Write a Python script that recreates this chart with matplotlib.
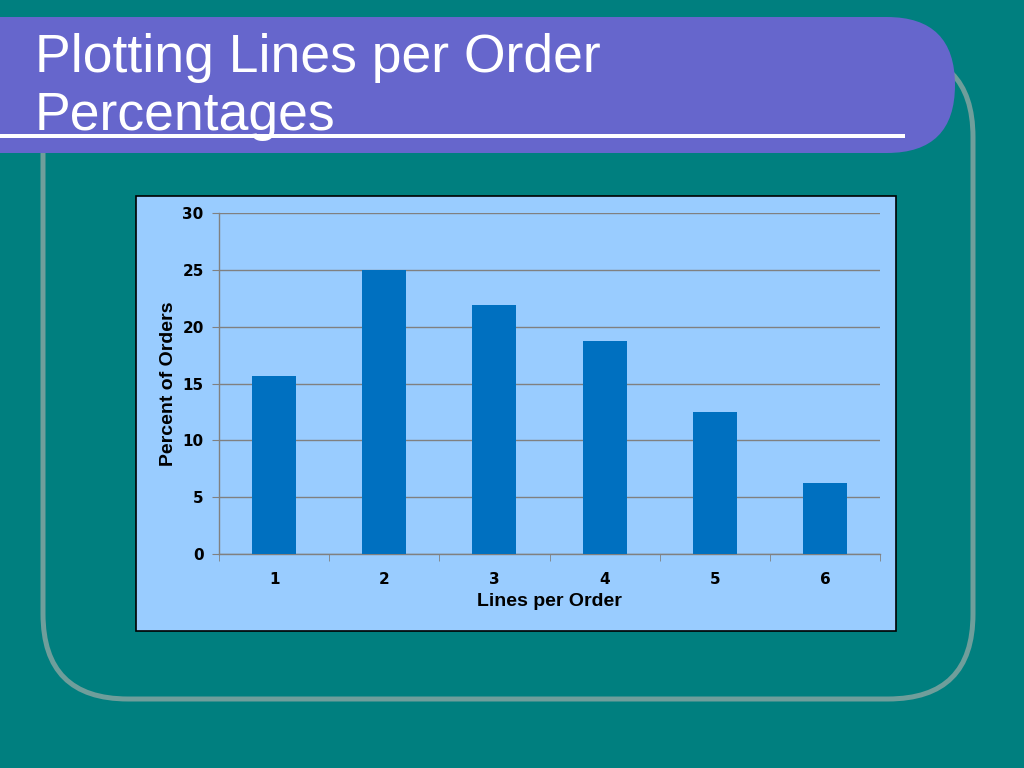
import matplotlib
matplotlib.use("Agg")
import matplotlib.pyplot as plt
from matplotlib.patches import FancyBboxPatch, Rectangle

# data (32 orders -> steps of 3.125 %)
lines_per_order = [1, 2, 3, 4, 5, 6]
percent_orders = [15.625, 25.0, 21.875, 18.75, 12.5, 6.25]
y_ticks = [0, 5, 10, 15, 20, 25, 30]

title_lines = ["Plotting Lines per Order", "Percentages"]

teal = "#007F7F"
purple = "#6666CC"
outline = "#6F9E9B"
chart_bg = "#99CCFF"
bar_col = "#0070C0"
grid_col = "#808080"

fig = plt.figure(figsize=(10.24, 7.68), dpi=100)
fig.patch.set_facecolor(teal)

# slide decoration in pixel coordinates
bg = fig.add_axes([0, 0, 1, 1])
bg.set_xlim(0, 1024)
bg.set_ylim(768, 0)
bg.axis("off")

bg.add_patch(FancyBboxPatch((43, 52), 930, 647,
                            boxstyle="round,pad=0,rounding_size=85",
                            fill=False, ec=outline, lw=3.6))
bg.add_patch(FancyBboxPatch((-300, 17), 1255, 136,
                            boxstyle="round,pad=0,rounding_size=68",
                            fc=purple, ec="none"))
bg.add_patch(Rectangle((0, 134), 905, 4, fc="white", ec="none"))
for y, t in zip([72, 130], title_lines):
    bg.text(35, y, t, color="white", fontsize=38.5,
            family=["Liberation Sans Narrow", "Liberation Sans"], va="baseline")

# chart box
bg.add_patch(Rectangle((136, 196), 760, 435, fc=chart_bg, ec="black", lw=1.2))

ax = fig.add_axes([219 / 1024, (768 - 554) / 768, 661 / 1024, 341 / 768])
ax.patch.set_visible(False)
ax.bar(lines_per_order, percent_orders, width=0.4, color=bar_col, zorder=3)
ax.set_xlim(0.5, 6.5)
ax.set_ylim(0, 30)
ax.set_yticks(y_ticks)
ax.set_xticks(lines_per_order)
ax.set_xticks([x + 0.5 for x in [0] + lines_per_order], minor=True)
ax.grid(axis="y", color=grid_col, lw=1, zorder=0)
for s in ["top", "right"]:
    ax.spines[s].set_visible(False)
for s in ["left", "bottom"]:
    ax.spines[s].set_color(grid_col)
    ax.spines[s].set_linewidth(1)
ax.tick_params(axis="y", length=5, color=grid_col, pad=6)
ax.tick_params(axis="x", which="major", length=0, pad=13)
ax.tick_params(axis="x", which="minor", length=5, color=grid_col)
for lab in ax.get_xticklabels() + ax.get_yticklabels():
    lab.set_fontweight("bold")
    lab.set_fontsize(11)
    lab.set_family("DejaVu Sans")

ax.set_xlabel("Lines per Order", fontsize=14, fontweight="bold",
              family="Liberation Sans", labelpad=4)
ax.set_ylabel("Percent of Orders", fontsize=14, fontweight="bold",
              family="Liberation Sans", labelpad=4)

fig.savefig("out.png", dpi=100, facecolor=teal)
